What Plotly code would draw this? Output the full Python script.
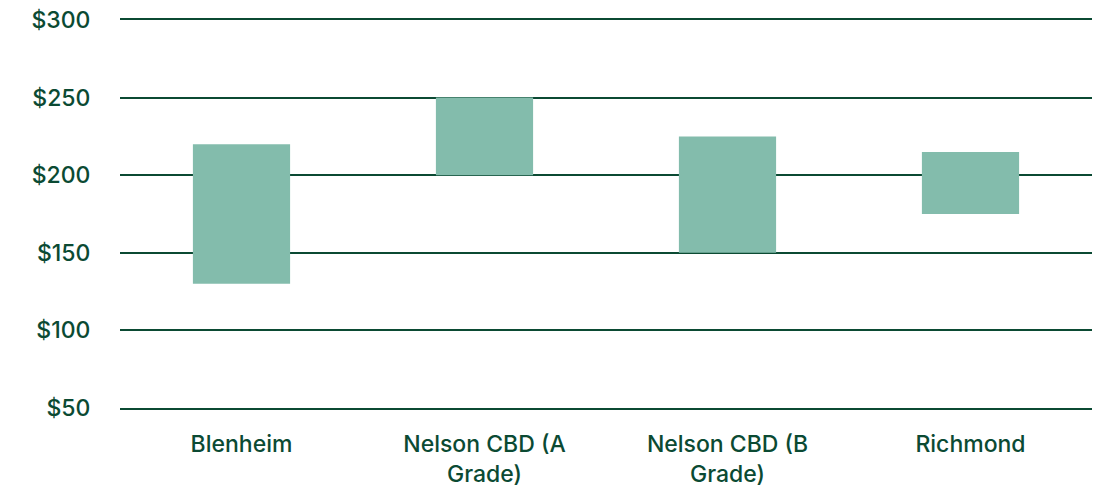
import plotly.graph_objects as go

categories = ["Blenheim", "Nelson CBD (A<br>Grade)", "Nelson CBD (B<br>Grade)", "Richmond"]
low = [130, 200, 150, 175]
high = [220, 250, 225, 215]
tick_vals = [50, 100, 150, 200, 250, 300]
tick_text = ["$50", "$100", "$150", "$200", "$250", "$300"]

dark = "#0b4a33"
bar_color = "#83bcac"

fig = go.Figure()
fig.add_trace(go.Bar(
    x=categories,
    y=[h - l for h, l in zip(high, low)],
    base=low,
    marker=dict(color=bar_color, line=dict(width=0)),
    width=0.4,
    hoverinfo="skip",
))

fig.update_layout(
    width=1099, height=489,
    margin=dict(l=120, r=7, t=20, b=81),
    paper_bgcolor="white", plot_bgcolor="white",
    font=dict(family="Inter, Roboto, sans-serif", size=22, color=dark, weight=500),
    showlegend=False,
    xaxis=dict(
        range=[-0.5, 3.5], showgrid=False, zeroline=False, automargin=False,
        showline=True, linecolor=dark, linewidth=2, mirror=True,
        ticks="outside", ticklen=14, tickcolor="rgba(0,0,0,0)",
        tickfont=dict(size=23, color=dark, weight=500),
    ),
    yaxis=dict(
        range=[50, 300], tickvals=tick_vals, ticktext=tick_text, automargin=False,
        showgrid=True, gridcolor=dark, gridwidth=2,
        zeroline=False, showline=False,
        ticks="outside", ticklen=24, tickcolor="rgba(0,0,0,0)",
        tickfont=dict(size=23, color=dark, weight=500),
    ),
)

fig.write_html("out.html")
